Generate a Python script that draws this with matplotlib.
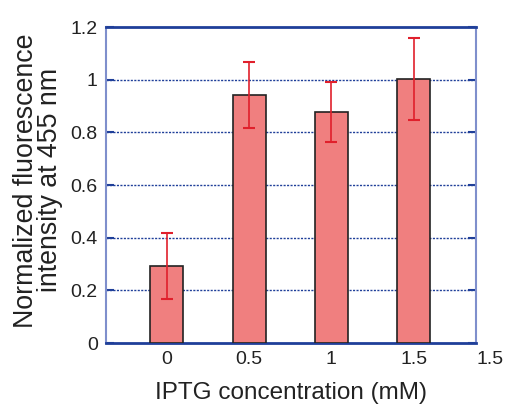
import matplotlib
matplotlib.use('Agg')
from matplotlib import pyplot as plt
import matplotlib.transforms as mtransforms

# data
labels = ['0', '0.5', '1', '1.5']
values = [0.294, 0.942, 0.877, 1.004]
errors = [0.125, 0.127, 0.115, 0.156]
y_ticks = [0, 0.2, 0.4, 0.6, 0.8, 1, 1.2]
y_tick_labels = ['0', '0.2', '0.4', '0.6', '0.8', '1', '1.2']

plt.rcParams['font.family'] = ['Liberation Sans', 'DejaVu Sans']

fig = plt.figure(figsize=(5.07, 4.05), dpi=100)
ax = fig.add_axes([0.209, 0.153, 0.730, 0.780])

blue = '#1f3f99'
x = list(range(len(values)))

ax.bar(x, values, width=0.4, color='#f07f7f', edgecolor='#222222',
       linewidth=1.2, zorder=3)
ax.errorbar(x, values, yerr=errors, fmt='none', ecolor='#e0202c',
            elinewidth=1.2, capsize=4, capthick=1.5, zorder=4)

ax.set_xlim(-0.74, 3.76)
ax.set_ylim(0, 1.2)
ax.set_yticks(y_ticks)
ax.set_yticklabels(y_tick_labels, fontsize=14, color='#222222')
ax.set_xticks(x)
ax.set_xticklabels(labels, fontsize=14, color='#222222')
# extra label past the right edge, as in the original
trans = mtransforms.blended_transform_factory(ax.transData, ax.transAxes)
ax.annotate('1.5', xy=(3.93, 0), xycoords=trans, xytext=(0, -6),
            textcoords='offset points', fontsize=14, color='#222222',
            ha='center', va='top', annotation_clip=False)

ax.tick_params(axis='x', length=0, pad=6)
ax.tick_params(axis='y', direction='in', length=6, width=1.5, color=blue,
               right=True, pad=6)

for y in y_ticks[1:-1]:
    ax.axhline(y, color=blue, linestyle=(0, (1.5, 1)), linewidth=1, zorder=1)

for side in ['top', 'bottom']:
    ax.spines[side].set_color(blue)
    ax.spines[side].set_linewidth(2)
for side in ['left', 'right']:
    ax.spines[side].set_color('#7f8fcc')
    ax.spines[side].set_linewidth(1.5)

ax.set_xlabel('IPTG concentration (mM)', fontsize=17.5, color='#222222',
              labelpad=10)
ax.set_ylabel('Normalized fluorescence\nintensity at 455 nm', fontsize=19.3,
              color='#222222', linespacing=0.92)
ax.yaxis.set_label_coords(-0.115, 0.515)

plt.savefig('out.png', format='png')
